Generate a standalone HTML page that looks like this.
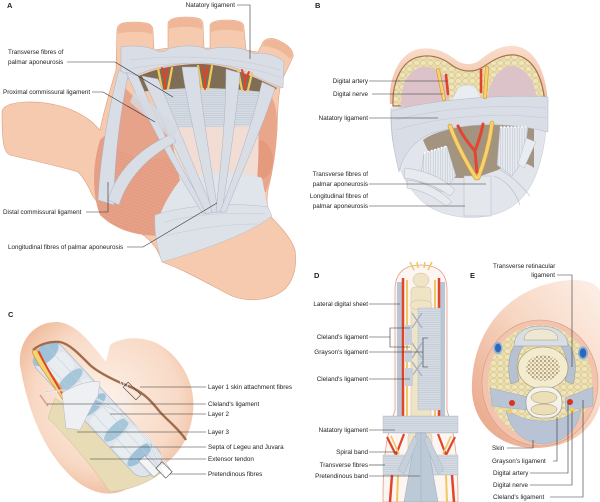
<!DOCTYPE html>
<html><head><meta charset="utf-8"><style>
html,body{margin:0;padding:0;background:#fff;}
svg{display:block;}
text{font-family:"Liberation Sans",Arial,sans-serif;font-size:6.3px;fill:#222;}
.l{stroke:#333;stroke-width:0.6;fill:none;}
.lt{font-weight:bold;font-size:7.5px;}
.lig{fill:#d9dee6;stroke:#aab3c1;stroke-width:0.5;}
</style></head><body>
<svg width="600" height="502" viewBox="0 0 600 502" xmlns="http://www.w3.org/2000/svg">
<defs>
<pattern id="fat" width="7" height="6" patternUnits="userSpaceOnUse"><rect width="7" height="6" fill="#eadcab"/><ellipse cx="3.5" cy="3" rx="3" ry="2.4" fill="#efe5bc" stroke="#d3bf83" stroke-width="0.5"/></pattern>
<pattern id="dots" width="4" height="4" patternUnits="userSpaceOnUse"><circle cx="1" cy="1" r="0.9" fill="#6b4f2c"/><circle cx="3" cy="3" r="0.7" fill="#7a5a33"/></pattern>
<pattern id="hl" width="4" height="2.2" patternUnits="userSpaceOnUse"><rect width="4" height="2.2" fill="#d6dce5"/><line x1="0" y1="1.1" x2="4" y2="1.1" stroke="#b7bfcb" stroke-width="0.5"/></pattern>
<pattern id="vl" width="2.4" height="4" patternUnits="userSpaceOnUse"><rect width="2.4" height="4" fill="#e6e9ee"/><line x1="1.2" y1="0" x2="1.2" y2="4" stroke="#b9c0cb" stroke-width="0.5"/></pattern>
<pattern id="ms" width="6" height="3" patternUnits="userSpaceOnUse" patternTransform="rotate(20)"><rect width="6" height="3" fill="#e49d83"/><line x1="0" y1="1.5" x2="6" y2="1.5" stroke="#eaa78e" stroke-width="0.6"/></pattern>
<linearGradient id="skinE" x1="1" y1="0" x2="0" y2="1"><stop offset="0" stop-color="#fdf0e8"/><stop offset="0.45" stop-color="#f7d6c2"/><stop offset="1" stop-color="#e8a083"/></linearGradient>
<radialGradient id="skinC" cx="0.5" cy="0.45" r="0.6"><stop offset="0" stop-color="#fdf1e8"/><stop offset="0.7" stop-color="#f8d9c5"/><stop offset="1" stop-color="#efb999"/></radialGradient>
<linearGradient id="skinB" x1="0" y1="0" x2="0" y2="1"><stop offset="0" stop-color="#f9ddcb"/><stop offset="1" stop-color="#efbb9d"/></linearGradient>
</defs>

<!-- ================= PANEL A ================= -->
<text class="lt" x="7" y="8">A</text>
<path d="M2,112 C2,106 10,103 25,102 C50,101 75,108 92,122 L100,130 C104,110 110,90 116,70 L117,30 C117,24 122,22 135,22 C150,22 153,25 153,31 L154,50 L168,48 L168,24 C168,19 175,17 186,17 C200,17 203,19 203,25 L204,48 L210,48 L210,26 C210,22 216,20 227,20 C241,20 244,23 244,28 L246,50 L258,52 L263,42 C266,38 272,37 280,41 C290,46 294,51 293,57 L284,76 C279,85 278,100 277,130 C276,150 273,170 268,190 C266,200 267,210 272,218 C282,228 292,240 295,250 C297,265 295,278 285,289 C272,300 250,303 232,296 C210,285 185,270 162,262 C158,248 150,238 135,230 C118,222 100,208 92,195 C88,185 84,178 78,172 C55,165 30,160 10,155 C3,152 2,140 2,112 Z" fill="#f5caae" stroke="#df9f7f" stroke-width="0.6"/>
<!-- finger tops -->
<path d="M118,30 C118,24 123,23 135,23 C149,23 152,25 152,30 L152,34 C145,31 125,31 118,34 Z" fill="#efb697"/>
<path d="M169,24 C169,19 176,18 186,18 C199,18 202,20 202,25 L202,29 C195,26 176,26 169,29 Z" fill="#efb697"/>
<path d="M211,26 C211,22 217,21 227,21 C240,21 243,23 243,28 L243,32 C235,29 218,29 211,32 Z" fill="#efb697"/>
<path d="M264,42 C267,39 273,38 280,42 C289,46 292,50 292,56 L290,59 C285,52 272,46 263,46 Z" fill="#efb697"/>
<!-- muscles -->
<path d="M100,140 C115,125 135,118 155,125 C180,140 195,170 192,200 C190,220 180,232 165,235 C140,238 115,230 100,215 C92,195 92,165 100,140 Z" fill="url(#ms)"/>
<path d="M118,80 C130,95 150,110 165,125 L178,152 C160,162 140,160 120,150 L106,140 C110,115 113,95 118,80 Z" fill="#e7a389"/>
<path d="M255,88 C270,88 278,100 277,130 C276,155 272,175 266,192 C252,188 242,168 242,140 C242,112 246,95 255,88 Z" fill="#eaa68b"/>
<ellipse cx="258" cy="160" rx="15" ry="20" fill="#e08e72" opacity="0.55"/>
<!-- pale palm center -->
<path d="M168,120 L258,120 C260,160 256,195 254,212 L186,214 C180,180 174,150 168,120 Z" fill="#f1ddd3"/>
<!-- converging fibres near wrist -->
<path d="M182,178 C200,172 240,170 262,178 L268,210 C240,206 190,210 158,220 C164,203 172,190 182,178 Z" fill="#e0e4eb"/>
<!-- wrist gray band -->
<path d="M155,215 C185,205 235,202 268,207 L272,216 C250,233 210,248 162,262 C157,248 154,232 155,215 Z" fill="#dde1e8" stroke="#b8bfca" stroke-width="0.5"/>
<path d="M165,222 C195,214 235,212 265,214 M166,236 C195,228 230,224 258,224" stroke="#c5cbd4" stroke-width="0.5" fill="none"/>
<!-- transverse fibres -->
<path d="M150,87 L260,88 L256,126 L160,128 Z" fill="url(#hl)"/>
<!-- natatory band -->
<path d="M121,47 C130,45 145,46 153,49 C160,53 165,52 168,49 C180,45 195,45 204,48 C207,50 208,50 210,49 C222,46 235,47 246,50 C252,53 256,55 260,53 C270,54 278,56 284,62 L283,88 C275,85 265,81 255,76 C240,68 220,63 200,63 C175,63 150,68 135,76 L121,82 Z" fill="#d8dde6" stroke="#aeb6c3" stroke-width="0.5"/>
<path d="M130,60 C170,55 230,55 280,70" stroke="#c3c9d3" stroke-width="0.5" fill="none"/>
<path d="M125,70 C170,60 235,60 282,78" stroke="#c3c9d3" stroke-width="0.5" fill="none"/>
<!-- dark gap -->
<path d="M135,78 C150,70 175,64 200,64 C222,64 245,72 277,88 L270,93 C250,90 220,88 200,88 C180,88 155,90 140,92 Z" fill="#7f6d55"/>
<!-- vessels in gap -->
<g fill="none" stroke-linecap="round">
<path d="M158,68 L162,89 M172,68 L168,89" stroke="#f2c95c" stroke-width="2.2"/>
<path d="M162,68 L165,79 L168,68 M165,79 L165,89" stroke="#e2432a" stroke-width="2"/>
<path d="M198,66 L202,89 M212,66 L208,89" stroke="#f2c95c" stroke-width="2.2"/>
<path d="M202,66 L205,78 L208,66 M205,78 L205,89" stroke="#e2432a" stroke-width="2"/>
<path d="M238,70 L242,90 M252,73 L248,90" stroke="#f2c95c" stroke-width="2.2"/>
<path d="M242,70 L245,80 L249,72 M245,80 L245,90" stroke="#e2432a" stroke-width="2"/>
</g>
<!-- longitudinal bands -->
<path class="lig" d="M126,72 L138,76 C160,130 185,175 208,213 L203,214 C175,170 150,125 126,72 Z"/>
<path class="lig" d="M142,76 L158,79 C175,120 195,170 214,212 L206,214 C185,170 162,120 142,76 Z"/>
<path class="lig" d="M182,67 L198,67 C202,110 210,160 218,212 L212,213 C200,160 188,110 182,67 Z"/>
<path class="lig" d="M226,69 L240,73 C236,120 228,170 222,212 L216,212 C220,170 226,120 226,69 Z"/>
<path class="lig" d="M262,82 L275,88 C262,130 240,175 226,212 L220,212 C236,170 252,125 262,82 Z"/>
<!-- thumb side ligaments -->
<path class="lig" d="M119,70 L128,75 C120,115 114,160 114,205 L98,200 C100,160 108,110 119,70 Z"/>
<path class="lig" d="M108,200 C115,175 135,150 172,134 L176,142 C145,158 127,180 119,205 Z"/>
<path d="M134,92 C150,102 165,115 178,128 L172,140 C160,128 145,116 130,102 Z" fill="#d3d9e2" opacity="0.85"/>
<!-- labels A -->
<text x="235" y="7.2" text-anchor="end">Natatory ligament</text>
<polyline class="l" points="237,5 250,5 250,59"/>
<text x="8" y="54.2">Transverse fibres of</text>
<text x="8" y="64.2">palmar aponeurosis</text>
<polyline class="l" points="67,62 115,62 173,97"/>
<text x="3" y="94">Proximal commissural ligament</text>
<polyline class="l" points="92,92 103,92 155,122"/>
<text x="3" y="214">Distal commissural ligament</text>
<polyline class="l" points="86,212 108,212 108,182"/>
<text x="8" y="249">Longitudinal fibres of palmar aponeurosis</text>
<polyline class="l" points="127,247 143,247 217,203"/>

<!-- ================= PANEL B ================= -->
<text class="lt" x="315" y="8">B</text>
<path d="M390,104 C388,80 398,56 415,50 C432,45 446,52 456,60 C463,65 472,66 480,60 C490,52 500,45 515,46 C532,48 546,66 548,104 Z" fill="url(#skinB)"/>
<path d="M393,106 C392,84 400,64 415,58 C430,53 443,58 453,66 C462,72 474,73 483,67 C493,60 503,54 515,55 C530,57 543,72 545,106 Z" fill="url(#fat)" stroke="#a8704f" stroke-width="1.2"/>
<path d="M401,110 C400,90 405,74 418,68 C430,64 440,70 448,80 L450,110 Z" fill="#dbc3c9"/>
<path d="M486,110 C488,84 495,70 510,66 C525,66 537,80 538,110 Z" fill="#dbc3c9"/>
<path d="M450,104 L484,104 L476,88 C471,84 463,84 458,88 Z" fill="#e9ecf0" stroke="#c0c6d0" stroke-width="0.4"/>
<!-- lower blob -->
<path d="M391,108 C389,150 402,188 428,206 C450,220 484,221 506,210 C531,197 546,168 548,100 Z" fill="#e2e5eb" stroke="#c3c9d2" stroke-width="0.5"/>
<!-- gap -->
<path d="M423,140 C440,127 490,120 534,126 L534,168 C525,160 510,162 498,170 L475,178 L445,178 C436,166 428,152 423,140 Z" fill="#a39480"/>
<!-- natatory band -->
<path d="M391,111 C430,100 500,94 548,97 L548,132 C510,122 465,122 430,134 C413,142 403,155 399,172 C394,152 391,132 391,111 Z" fill="#d8dde6" stroke="#b3bac6" stroke-width="0.5"/>
<path d="M395,120 C440,108 500,104 546,108 M396,130 C440,116 500,112 546,118" stroke="#c2c8d2" stroke-width="0.5" fill="none"/>
<!-- fibre fans -->
<path d="M500,127 L528,127 L524,160 L512,176 L497,165 Z" fill="url(#vl)" stroke="#aeb6c2" stroke-width="0.5"/>
<path d="M526,138 L536,142 L524,168 L518,164 Z" fill="#e8ebf0" stroke="#aeb6c2" stroke-width="0.4"/>
<path d="M424,153 L447,146 L456,176 L442,192 L420,182 Z" fill="url(#vl)" stroke="#aeb6c2" stroke-width="0.5"/>
<path d="M500,127 L528,127" stroke="#fff" stroke-width="1.5" stroke-dasharray="2,1.5"/>
<path d="M424,153 L447,146" stroke="#fff" stroke-width="1.5" stroke-dasharray="2,1.5"/>
<path d="M405,168 C420,170 440,175 455,190 L450,196 C435,185 418,180 404,178 Z" fill="#e7eaef" stroke="#aeb6c2" stroke-width="0.5"/>
<path d="M407,180 C425,182 440,190 452,202 L446,206 C432,195 420,190 407,188 Z" fill="#e7eaef" stroke="#aeb6c2" stroke-width="0.5"/>
<rect x="464" y="176" width="27" height="40" fill="#e4e7ec" stroke="#b3bac6" stroke-width="0.5"/>
<path d="M494,176 C505,180 515,190 520,205 M500,170 C512,176 522,186 530,196" stroke="#b3bac6" stroke-width="0.6" fill="none"/>
<!-- vessels B -->
<g fill="none" stroke-linecap="round">
<path d="M438,70 L444,99" stroke="#d99a3a" stroke-width="4"/>
<path d="M438,70 L444,99" stroke="#f5d370" stroke-width="2.6"/>
<path d="M446,75 L448,94" stroke="#e2432a" stroke-width="2.6"/>
<path d="M487,68 L485,97" stroke="#d99a3a" stroke-width="4"/>
<path d="M487,68 L485,97" stroke="#f5d370" stroke-width="2.6"/>
<path d="M481,70 L481,92" stroke="#e2432a" stroke-width="2.6"/>
<path d="M450,126 C455,140 465,160 476,178 M492,123 C490,140 485,160 478,178" stroke="#d99a3a" stroke-width="4.6"/>
<path d="M450,126 C455,140 465,160 476,178 M492,123 C490,140 485,160 478,178" stroke="#f5d370" stroke-width="3.2"/>
<path d="M458,126 C463,137 470,145 475,151 M483,124 C481,135 478,143 475,151 L477,172" stroke="#e4452d" stroke-width="3"/>
</g>
<!-- labels B -->
<text x="368" y="83.2" text-anchor="end">Digital artery</text>
<line class="l" x1="369" y1="81" x2="447" y2="81"/>
<text x="368" y="96.2" text-anchor="end">Digital nerve</text>
<line class="l" x1="372" y1="94" x2="443" y2="94"/>
<text x="368" y="120.2" text-anchor="end">Natatory ligament</text>
<line class="l" x1="369" y1="118" x2="438" y2="118"/>
<text x="368" y="176.2" text-anchor="end">Transverse fibres of</text>
<text x="368" y="186.2" text-anchor="end">palmar aponeurosis</text>
<line class="l" x1="369" y1="184" x2="486" y2="184"/>
<text x="368" y="198.2" text-anchor="end">Longitudinal fibres of</text>
<text x="368" y="208.2" text-anchor="end">palmar aponeurosis</text>
<line class="l" x1="369" y1="206" x2="465" y2="206"/>

<!-- ================= PANEL C ================= -->
<text class="lt" x="8" y="317">C</text>
<path d="M20,365 C18,340 35,321 58,322 C78,324 92,345 106,362 L110,345 C122,336 145,336 160,345 C182,358 196,385 193,412 C190,440 176,458 160,467 L125,490 C108,498 90,492 75,480 C52,460 30,425 20,365 Z" fill="url(#skinC)"/>
<!-- bone -->
<path d="M55,398 C85,420 125,448 162,472 C150,482 130,490 110,492 C95,470 70,440 48,418 Z" fill="#e8dcb6" stroke="#cdbb8d" stroke-width="0.5"/>
<!-- tube -->
<g transform="translate(38,350) rotate(47)">
<rect x="0" y="-20" width="168" height="34" rx="14" fill="#dfe5ec" stroke="#9fb0c2" stroke-width="0.6"/>
<ellipse cx="8" cy="-3" rx="8" ry="16" fill="#9ec2d9"/>
<ellipse cx="44" cy="-3" rx="6" ry="16" fill="#a6c6da"/>
<ellipse cx="78" cy="-3" rx="6" ry="16" fill="#9ec2d9"/>
<ellipse cx="112" cy="-3" rx="6" ry="16" fill="#a6c6da"/>
<ellipse cx="146" cy="-3" rx="6" ry="16" fill="#9ec2d9"/>
<rect x="16" y="-18" width="22" height="30" rx="6" fill="#e9edf2" opacity="0.9"/>
<rect x="52" y="-18" width="20" height="30" rx="6" fill="#e9edf2" opacity="0.9"/>
<rect x="86" y="-18" width="20" height="30" rx="6" fill="#e9edf2" opacity="0.9"/>
<rect x="120" y="-18" width="20" height="30" rx="6" fill="#e9edf2" opacity="0.9"/>
<line x1="0" y1="-9" x2="170" y2="-9" stroke="#c5ccd6" stroke-width="0.5"/>
<line x1="0" y1="3" x2="170" y2="3" stroke="#c5ccd6" stroke-width="0.5"/>
<rect x="150" y="-6" width="22" height="8" fill="#f3f4f6" stroke="#8f98a4" stroke-width="0.5"/>
</g>
<!-- vessel -->
<path d="M35,352 C42,368 58,385 72,410" stroke="#d99a3a" stroke-width="6" fill="none" stroke-linecap="round"/>
<path d="M35,352 C42,368 58,385 72,410" stroke="#f5d370" stroke-width="4.4" fill="none" stroke-linecap="round"/>
<path d="M39,352 C47,370 60,388 71,409" stroke="#e0452b" stroke-width="2" fill="none" stroke-linecap="round"/>
<!-- brown skin line -->
<path d="M33,350 C40,344 50,341 60,342 C70,344 80,355 90,365 C100,374 118,382 133,388 C145,394 152,402 160,412 C168,421 178,428 186,440" stroke="#a26c4e" stroke-width="2.4" fill="none"/>
<!-- white lines -->
<path d="M45,392 C80,385 110,400 150,440 L172,472" stroke="#f4f6f8" stroke-width="1.6" fill="none"/>
<path d="M45,392 C80,385 110,400 150,440 L172,472" stroke="#9aa4b1" stroke-width="0.4" fill="none"/>
<path d="M85,405 C110,400 130,420 150,445 L165,478" stroke="#f4f6f8" stroke-width="1.6" fill="none"/>
<path d="M85,405 C110,400 130,420 150,445 L165,478" stroke="#9aa4b1" stroke-width="0.4" fill="none"/>
<path d="M120,380 L128,410 M124,382 L122,410 M128,384 L118,410" stroke="#eef1f5" stroke-width="0.8"/>
<!-- layer 3 sheet -->
<path d="M62,393 C75,385 90,380 100,382 L98,396 C92,405 86,418 80,430 L66,428 Z" fill="#eef0f3" stroke="#b3bbc6" stroke-width="0.5"/>
<path d="M40,395 C44,400 46,404 48,406" stroke="#d7a08a" stroke-width="1.5" fill="none"/>
<!-- boxes -->
<rect x="-9" y="-3.5" width="18" height="7" fill="none" stroke="#444" stroke-width="0.6" transform="translate(132,391) rotate(45)"/>
<rect x="-7" y="-4.5" width="14" height="9" fill="#fff" fill-opacity="0.6" stroke="#444" stroke-width="0.6" transform="translate(164,470) rotate(45)"/>
<!-- labels C -->
<text x="208" y="389.2">Layer 1 skin attachment fibres</text>
<line class="l" x1="140" y1="387" x2="206" y2="387"/>
<text x="208" y="406.2">Cleland's ligament</text>
<line class="l" x1="47" y1="404" x2="206" y2="404"/>
<text x="208" y="416.2">Layer 2</text>
<line class="l" x1="110" y1="414" x2="206" y2="414"/>
<text x="208" y="434.2">Layer 3</text>
<line class="l" x1="77" y1="432" x2="206" y2="432"/>
<text x="208" y="449.2">Septa of Legeu and Juvara</text>
<line class="l" x1="110" y1="447" x2="206" y2="447"/>
<text x="208" y="461.2">Extensor tendon</text>
<line class="l" x1="90" y1="459" x2="206" y2="459"/>
<text x="208" y="476.2">Pretendinous fibres</text>
<line class="l" x1="170" y1="474" x2="206" y2="474"/>

<!-- ================= PANEL D ================= -->
<text class="lt" x="314" y="278">D</text>
<path d="M383,502 C383,470 384,440 395,410 L395,290 C395,272 405,265 421,265 C437,265 447,272 447,290 L447,410 C457,440 458,470 458,502 Z" fill="#fdf5f1" stroke="#e29c8a" stroke-width="0.8"/>
<rect x="397" y="282" width="5" height="138" fill="#b8c6d6"/>
<rect x="440" y="282" width="5" height="138" fill="#b8c6d6"/>
<path d="M403,278 L403,420" stroke="#e0452b" stroke-width="2.5"/>
<path d="M407,280 L407,420" stroke="#f0c860" stroke-width="2"/>
<path d="M439,278 L439,420" stroke="#e0452b" stroke-width="2.5"/>
<path d="M435,280 L435,420" stroke="#f0c860" stroke-width="2"/>
<!-- bone -->
<rect x="411" y="287" width="20" height="133" rx="4" fill="#efe4c6" stroke="#cdbd95" stroke-width="0.5"/>
<ellipse cx="421" cy="280" rx="8" ry="7" fill="#efe4c6" stroke="#cdbd95" stroke-width="0.5"/>
<ellipse cx="421" cy="305" rx="11" ry="5" fill="#efe4c6" stroke="#cdbd95" stroke-width="0.5"/>
<path d="M414,270 L410,262 M418,268 L417,262 M424,268 L425,262 M428,270 L432,262" stroke="#f0c860" stroke-width="1.5"/>
<!-- ligaments -->
<rect x="418" y="308" width="23" height="102" fill="url(#hl)" stroke="#aab3c1" stroke-width="0.4"/>
<path d="M412,313 L422,328 M422,313 L412,328 M412,343 L422,358 M422,343 L412,358 M412,362 L422,376 M422,362 L412,376" stroke="#a6b0bf" stroke-width="1.3"/>
<rect x="405" y="325" width="7" height="20" fill="#c6cfdb"/>
<rect x="405" y="350" width="7" height="12" fill="#c6cfdb"/>
<rect x="405" y="368" width="8" height="18" fill="#c6cfdb"/>
<!-- lower -->
<rect x="408" y="432" width="24" height="24" rx="5" fill="#efe4c6" stroke="#cdbd95" stroke-width="0.5"/>
<path d="M387,437 L396,455 L404,434 M455,437 L446,455 L438,434" stroke="#e0452b" stroke-width="2.2" fill="none"/>
<path d="M391,436 L399,454 M451,436 L443,454" stroke="#f0c860" stroke-width="1.6" fill="none"/>
<rect x="383" y="416" width="75" height="17" fill="url(#hl)" stroke="#aab3c1" stroke-width="0.4"/>
<rect x="383" y="455" width="75" height="20" fill="url(#hl)" stroke="#aab3c1" stroke-width="0.4"/>
<path d="M392,475 L390,502 M452,475 L454,502" stroke="#e0452b" stroke-width="2.5"/>
<path d="M398,475 L397,502 M446,475 L447,502" stroke="#f0c860" stroke-width="2"/>
<path d="M416,433 L426,433 L438,502 L404,502 Z" fill="#bccad8" stroke="#9fabbb" stroke-width="0.5"/>
<path d="M414,436 L398,470 L404,474 L418,440 Z M428,436 L444,470 L438,474 L424,440 Z" fill="#c5d0dc" stroke="#9fabbb" stroke-width="0.4"/>
<line x1="421" y1="433" x2="421" y2="502" stroke="#9fabbb" stroke-width="0.5"/>
<!-- labels D -->
<text x="368" y="306.2" text-anchor="end">Lateral digital sheet</text>
<line class="l" x1="369" y1="304" x2="400" y2="304"/>
<text x="368" y="339.2" text-anchor="end">Cleland's ligament</text>
<polyline class="l" points="369,337 390,337"/>
<polyline class="l" points="410,328 390,328 390,347 410,347"/>
<text x="368" y="354.2" text-anchor="end">Grayson's ligament</text>
<line class="l" x1="369" y1="352" x2="423" y2="352"/>
<polyline class="l" points="428,338 423,338 423,367 428,367"/>
<text x="368" y="381.2" text-anchor="end">Cleland's ligament</text>
<line class="l" x1="369" y1="379" x2="410" y2="379"/>
<text x="368" y="432.2" text-anchor="end">Natatory ligament</text>
<line class="l" x1="369" y1="430" x2="395" y2="430"/>
<text x="368" y="454.2" text-anchor="end">Spiral band</text>
<line class="l" x1="369" y1="452" x2="397" y2="452"/>
<text x="368" y="467.2" text-anchor="end">Transverse fibres</text>
<line class="l" x1="369" y1="465" x2="385" y2="465"/>
<text x="368" y="478.2" text-anchor="end">Pretendinous band</text>
<line class="l" x1="369" y1="476" x2="420" y2="476"/>

<!-- ================= PANEL E ================= -->
<text class="lt" x="470" y="278">E</text>
<path d="M472,392 C470,345 495,295 555,282 C580,277 598,282 600,292 L600,405 C592,432 568,448 535,448 C500,448 474,425 472,392 Z" fill="url(#skinE)"/>
<ellipse cx="540" cy="383" rx="58" ry="63" fill="#f2c4ad" stroke="#d69a80" stroke-width="0.6"/>
<ellipse cx="540" cy="382" rx="52" ry="57" fill="url(#fat)"/>
<ellipse cx="498" cy="348" rx="4.5" ry="6" fill="#7fb0e0"/>
<ellipse cx="498" cy="348" rx="3" ry="4.2" fill="#2f66b8"/>
<ellipse cx="583" cy="353" rx="5" ry="6.5" fill="#7fb0e0"/>
<ellipse cx="583" cy="353" rx="3.3" ry="4.6" fill="#2f66b8"/>
<!-- lateral bands -->
<path d="M521,338 C509,348 506,366 511,384 L519,381 C515,366 517,352 526,343 Z" fill="#b7c1cf" stroke="#8d98a8" stroke-width="0.5"/>
<path d="M563,338 C575,348 578,366 573,384 L565,381 C569,366 567,352 558,343 Z" fill="#b7c1cf" stroke="#8d98a8" stroke-width="0.5"/>
<path d="M514,346 C514,332 527,326 541,326 C555,326 568,333 568,346 Z" fill="#d9dde4" stroke="#8d98a8" stroke-width="0.5"/>
<path d="M524,340 C524,332 532,329 541,329 C550,329 558,332 558,340 Z" fill="#eee8d2" stroke="#a59a7a" stroke-width="0.5"/>
<!-- bone -->
<ellipse cx="543" cy="368" rx="25" ry="21" fill="#f3ebcd" stroke="#a39170" stroke-width="0.6"/>
<ellipse cx="543" cy="368" rx="17" ry="13" fill="url(#dots)" opacity="0.75"/>
<!-- gray fibres -->
<path d="M490,388 L528,397 L526,410 L492,406 Z" fill="#b9c4d4" stroke="#98a4b6" stroke-width="0.4"/>
<path d="M565,398 L593,387 L593,406 L566,411 Z" fill="#b9c4d4" stroke="#98a4b6" stroke-width="0.4"/>
<path d="M506,410 C520,418 530,421 545,421 C560,421 567,416 581,409 C579,428 565,442 545,444 C525,444 510,432 506,410 Z" fill="#b8c4d5" stroke="#98a4b6" stroke-width="0.4"/>
<!-- flexor sheath -->
<rect x="526" y="387" width="36" height="31" rx="14" fill="#f5f2ea" stroke="#8a8f99" stroke-width="0.6"/>
<ellipse cx="544" cy="397.5" rx="13" ry="6" fill="#ecdfb8" stroke="#9a8f70" stroke-width="0.5"/>
<ellipse cx="544" cy="409.5" rx="13" ry="5.5" fill="#ecdfb8" stroke="#9a8f70" stroke-width="0.5"/>
<circle cx="512" cy="403" r="3" fill="#d8341f"/>
<circle cx="570" cy="402" r="3" fill="#d8341f"/>
<circle cx="510" cy="411" r="2.4" fill="#f3cf5e"/>
<circle cx="572" cy="410" r="2.4" fill="#f3cf5e"/>
<!-- labels E -->
<text x="493" y="268">Transverse retinacular</text>
<text x="555" y="277.2" text-anchor="end">ligament</text>
<polyline class="l" points="557,275 572,275 572,367"/>
<text x="492" y="450.2">Skin</text>
<polyline class="l" points="507,448 533,448 533,440"/>
<text x="492" y="463.2">Grayson's ligament</text>
<polyline class="l" points="553,461 557,461 557,417"/>
<text x="493" y="475.2">Digital artery</text>
<polyline class="l" points="530,473 568,473 568,403"/>
<text x="493" y="487.2">Digital nerve</text>
<polyline class="l" points="530,485 572,485 572,411"/>
<text x="493" y="499.2">Cleland's ligament</text>
<polyline class="l" points="550,497 583,497 583,400"/>
</svg>
</body></html>
